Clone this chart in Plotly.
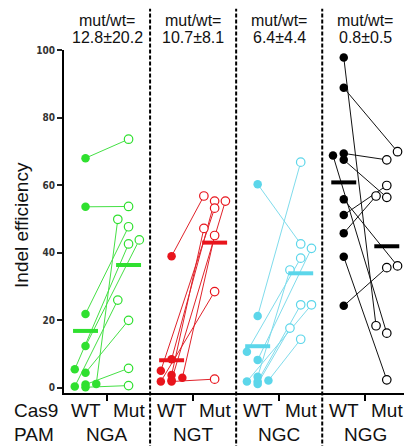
import numpy as np
import plotly.graph_objects as go

# ---------------- data ----------------
groups = ["NGA", "NGT", "NGC", "NGG"]
cas9_labels = ["WT", "Mut"]
ratio_labels = ["12.8±20.2", "10.7±8.1", "6.4±4.4", "0.8±0.5"]

nga_wt = [68.0, 53.6, 21.9, 12.4, 5.5, 4.5, 0.4, 1.2, 1.0, 0.2]
nga_mut = [73.6, 53.7, 47.7, 43.8, 42.6, 20.0, 26.0, 49.9, 5.8, 0.7]

ngt_wt = [39.0, 8.5, 5.1, 3.8, 3.0, 1.9, 1.9, 2.3]
ngt_mut = [56.8, 55.3, 53.2, 47.2, 45.1, 28.5, 2.6, 55.3]

ngc_wt = [60.3, 21.3, 10.7, 8.3, 3.3, 1.9, 1.9, 2.2, 1.2]
ngc_mut = [42.6, 66.8, 38.4, 41.3, 34.9, 24.6, 24.6, 14.4, 17.7]

ngg_wt = [97.8, 88.8, 68.8, 69.4, 67.5, 55.8, 51.2, 45.8, 38.8, 24.3]
ngg_mut = [18.4, 69.9, 16.2, 67.5, 56.4, 36.1, 59.9, 56.8, 2.4, 35.6]

# ---------------- layout / style (not data) ----------------
jit_step = 0.25
nga_wt_jit = [0, 0, 0, 0, -1, 0, -1, 1, 0, 0]
nga_mut_jit = [0, 0, 0, 1, 0, 0, -1, -1, 0, 0]
ngt_wt_jit = [0, 0, -1, 0, 1, -1, 0, 0]
ngt_mut_jit = [-1, 0, 0, -1, 0, 0, 0, 1]
ngc_wt_jit = [0, 0, -1, 0, 0, 0, -1, 1, 0]
ngc_mut_jit = [0, 0, 0, 1, -1, 0, 1, 0, -1]
ngg_wt_jit = [0, 0, -1, 0, 0, 0, 0, 0, 0, 0]
ngg_mut_jit = [-1, 1, 0, 0, 0, 1, 0, -1, 0, 0]

colors = ["#2fe02f", "#e8141c", "#5cd6ea", "#000000"]
line_colors = ["#45e045", "#e0222a", "#7fdcec", "#111111"]

series = [
    (nga_wt, nga_mut, nga_wt_jit, nga_mut_jit),
    (ngt_wt, ngt_mut, ngt_wt_jit, ngt_mut_jit),
    (ngc_wt, ngc_mut, ngc_wt_jit, ngc_mut_jit),
    (ngg_wt, ngg_mut, ngg_wt_jit, ngg_mut_jit),
]

fig = go.Figure()
FONT = "Liberation Sans, Arial, sans-serif"

for gi, (wt, mut, wj, mj) in enumerate(series):
    xw0 = 2 * gi
    xm0 = 2 * gi + 1
    xw = [xw0 + j * jit_step for j in wj]
    xm = [xm0 + j * jit_step for j in mj]
    lx, ly = [], []
    for a, b, c, d in zip(xw, wt, xm, mut):
        lx += [a, c, None]
        ly += [b, d, None]
    fig.add_trace(go.Scatter(x=lx, y=ly, mode="lines",
                             line=dict(color=line_colors[gi], width=1),
                             hoverinfo="skip", cliponaxis=False))
    fig.add_trace(go.Scatter(x=xw, y=wt, mode="markers",
                             marker=dict(color=colors[gi], size=8.5,
                                         line=dict(width=0)),
                             cliponaxis=False))
    fig.add_trace(go.Scatter(x=xm, y=mut, mode="markers",
                             marker=dict(color="white", size=8.5,
                                         line=dict(color=colors[gi], width=1.2)),
                             cliponaxis=False))
    for xc, vals in ((xw0, wt), (xm0, mut)):
        m = float(np.mean(vals))
        fig.add_trace(go.Scatter(x=[xc - 0.29, xc + 0.29], y=[m, m], mode="lines",
                                 line=dict(color=colors[gi], width=4),
                                 cliponaxis=False))

# dashed dividers
for k in range(3):
    fig.add_shape(type="line", xref="x", yref="paper", x0=2 * k + 1.5, x1=2 * k + 1.5,
                  y0=-0.2, y1=1.12, line=dict(color="black", width=2, dash="4px,2px"))

annotations = []
for gi, g in enumerate(groups):
    xc = 2 * gi + 0.5
    annotations.append(dict(x=xc, y=1, xref="x", yref="paper", text="mut/wt=", yanchor="middle",
                            showarrow=False, yshift=30, font=dict(size=16, color="#111", family=FONT)))
    annotations.append(dict(x=xc, y=1, xref="x", yref="paper", text=ratio_labels[gi], yanchor="middle",
                            showarrow=False, yshift=13, font=dict(size=16, color="#111", family=FONT)))
    for ci, lab in enumerate(cas9_labels):
        annotations.append(dict(x=2 * gi + ci, y=0, xref="x", yref="paper", text=lab, yanchor="middle",
                                showarrow=False, yshift=-17, font=dict(size=19, color="#111", family=FONT)))
    annotations.append(dict(x=xc, y=0, xref="x", yref="paper", text=g, yanchor="middle",
                            showarrow=False, yshift=-41, font=dict(size=19, color="#111", family=FONT)))
annotations.append(dict(x=0, y=0, xref="paper", yref="paper", text="Cas9", xanchor="left", yanchor="middle",
                        showarrow=False, xshift=-52, yshift=-17, font=dict(size=19, color="#111", family=FONT)))
annotations.append(dict(x=0, y=0, xref="paper", yref="paper", text="PAM", xanchor="left", yanchor="middle",
                        showarrow=False, xshift=-52, yshift=-41, font=dict(size=19, color="#111", family=FONT)))
annotations.append(dict(x=0, y=0.49, xref="paper", yref="paper", text="Indel efficiency",
                        textangle=-90, showarrow=False, xshift=-42, xanchor="center", yanchor="middle",
                        font=dict(size=19, color="#111", family=FONT)))

fig.update_layout(
    width=404, height=446,
    margin=dict(l=64, r=0, t=50, b=53),
    paper_bgcolor="white", plot_bgcolor="white",
    showlegend=False,
    annotations=annotations,
    xaxis=dict(range=[-0.5, 7.4], showgrid=False, zeroline=False,
               showline=True, linecolor="black", linewidth=2,
               tickvals=[0.5, 2.5, 4.5, 6.5], ticktext=["", "", "", ""],
               ticks="outside", ticklen=6, tickwidth=2, tickcolor="black"),
    yaxis=dict(range=[-1.5, 100], showgrid=False, zeroline=False,
               showline=True, linecolor="black", linewidth=2,
               tickvals=[0, 20, 40, 60, 80, 100],
               ticks="outside", ticklen=5, tickwidth=1.5, tickcolor="#222",
               tickfont=dict(family="DejaVu Sans Condensed, DejaVu Sans", size=10,
                             color="#333", weight="bold")),
)

fig.write_html("out.html", config={"displayModeBar": False},
               post_script="document.body.style.margin='0';document.body.style.overflow='hidden';")
